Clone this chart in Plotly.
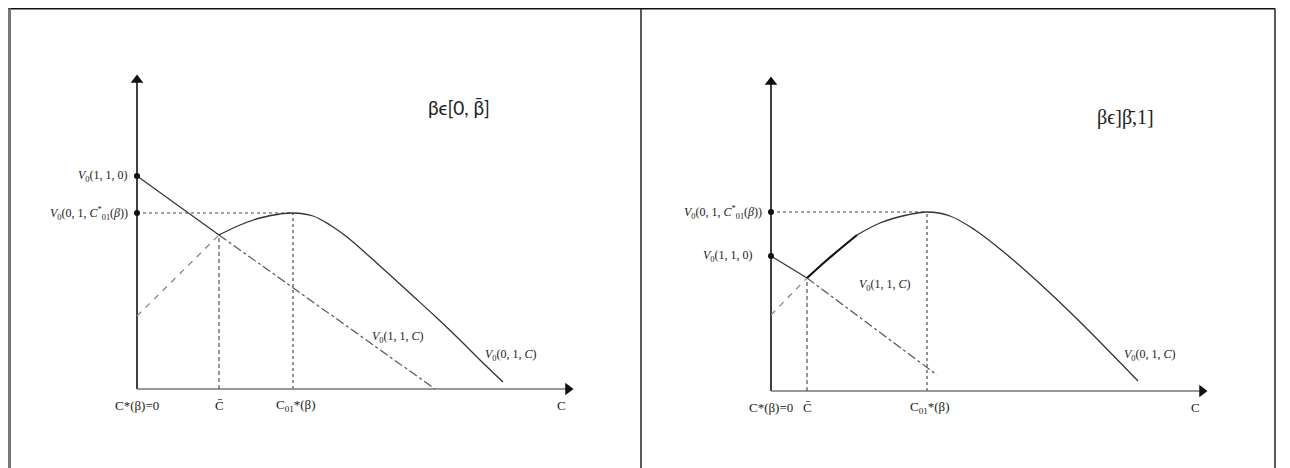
import plotly.graph_objects as go

# ---- left panel: beta in [0, beta_bar] ----
L_v110 = 2.13          # V0(1,1,0)
L_vstar = 1.76         # V0(0,1,C01*(beta))
L_cbar = 0.82
L_c01 = 1.56
L_kink_v = 1.54
L_v11_end = [2.98, 0.0]
L_v01_start = 0.73
L_curve_c = [0.82, 1.03, 1.23, 1.43, 1.56, 1.76, 1.93, 2.10, 2.43, 2.76, 3.00, 3.23, 3.43, 3.66]
L_curve_v = [1.54, 1.64, 1.71, 1.75, 1.76, 1.73, 1.64, 1.52, 1.23, 0.93, 0.71, 0.49, 0.29, 0.07]

# ---- right panel: beta in ]beta_bar, 1] ----
R_v110 = 1.35
R_vstar = 1.79
R_cbar = 0.36
R_c01 = 1.56
R_kink_v = 1.13
R_v11_end = [1.66, 0.16]
R_v01_start = 0.76
R_curve_c = [0.36, 0.56, 0.86, 1.09, 1.36, 1.56, 1.79, 2.04, 2.29, 2.56, 3.02, 3.67]
R_curve_v = [1.13, 1.31, 1.56, 1.68, 1.76, 1.79, 1.75, 1.61, 1.42, 1.19, 0.76, 0.10]
R_bold_n = 3  # first points of the curve drawn heavier

axis_top = 3.09
axis_right = 4.31

tick_labels = ["C*(β)=0", "C\u0304", "C<sub>01</sub>*(β)", "C"]
L_title = "βϵ[0, β\u0304]"
R_title = "βϵ]β\u0304,1]"

V110_txt = "<i>V</i><sub>0</sub>(1, 1, 0)"
VSTAR_txt = "<i>V</i><sub>0</sub>(0, 1, <i>C</i><sup>*</sup><sub>01</sub>(<i>β</i>))"
V11C_txt = "<i>V</i><sub>0</sub>(1, 1, <i>C</i>)"
V01C_txt = "<i>V</i><sub>0</sub>(0, 1, <i>C</i>)"

fig = go.Figure()
annotations = []
math_font = dict(family="Liberation Serif", size=12, color="#222")
tick_font = dict(family="Liberation Serif", size=13, color="#222")


def line(xs, ys, xa, ya, color="#222", width=1.3, dash="solid", shape="linear"):
    fig.add_trace(go.Scatter(x=xs, y=ys, mode="lines", xaxis=xa, yaxis=ya,
                             line=dict(color=color, width=width, dash=dash, shape=shape),
                             hoverinfo="skip", showlegend=False))


def panel(xa, ya, v110, vstar, cbar, c01, kink_v, v11_end, v01_start,
          curve_c, curve_v, bold_n, title, title_pos, title_font,
          v11c_pos, v01c_pos, v110_dx, c01_dx):
    xr = "x" if xa == "x" else "x2"
    yr = "y" if ya == "y" else "y2"
    # axes
    line([0, 0], [0, axis_top], xa, ya, color="#111", width=1.6)
    line([0, axis_right], [0, 0], xa, ya, color="#777", width=1.6)
    fig.add_trace(go.Scatter(x=[0, axis_right], y=[axis_top, 0], mode="markers",
                             xaxis=xa, yaxis=ya, hoverinfo="skip", showlegend=False,
                             marker=dict(symbol=["triangle-up", "triangle-right"],
                                         size=11, color="#111")))
    # guide lines
    line([0, c01], [vstar, vstar], xa, ya, color="#444", width=1, dash="dot")
    line([c01, c01], [0, vstar], xa, ya, color="#777", width=1.6, dash="dot")
    line([cbar, cbar], [0, kink_v], xa, ya, color="#333", width=1, dash="4px,3px")
    # V0(1,1,C)
    line([0, cbar], [v110, kink_v], xa, ya, color="#333", width=1.2)
    line([cbar, v11_end[0]], [kink_v, v11_end[1]], xa, ya, color="#555", width=1.2, dash="dashdot")
    # V0(0,1,C) below C bar
    line([0, cbar], [v01_start, kink_v], xa, ya, color="#888", width=1.3, dash="6px,6px")
    # V0(0,1,C) curve
    if bold_n:
        line(curve_c[:bold_n], curve_v[:bold_n], xa, ya, color="#111", width=2.2, shape="spline")
        line(curve_c[bold_n - 1:], curve_v[bold_n - 1:], xa, ya, color="#333", width=1.3, shape="spline")
    else:
        line(curve_c, curve_v, xa, ya, color="#333", width=1.3, shape="spline")
    # dots on the y axis
    fig.add_trace(go.Scatter(x=[0, 0], y=[v110, vstar], mode="markers", xaxis=xa, yaxis=ya,
                             marker=dict(size=6, color="#111"), hoverinfo="skip", showlegend=False))
    # labels
    annotations.append(dict(x=-0.07, y=vstar, xref=xr, yref=yr, text=VSTAR_txt,
                            xanchor="right", showarrow=False, font=math_font))
    annotations.append(dict(x=-0.07 - v110_dx, y=v110, xref=xr, yref=yr, text=V110_txt,
                            xanchor="right", showarrow=False, font=math_font))
    annotations.append(dict(x=v11c_pos[0], y=v11c_pos[1], xref=xr, yref=yr, text=V11C_txt,
                            xanchor="left", showarrow=False, font=math_font))
    annotations.append(dict(x=v01c_pos[0], y=v01c_pos[1], xref=xr, yref=yr, text=V01C_txt,
                            xanchor="left", showarrow=False, font=math_font))
    tick_x = [0, cbar, c01 + c01_dx, 4.24]
    for tx, tt in zip(tick_x, tick_labels):
        annotations.append(dict(x=tx, y=-0.16, xref=xr, yref=yr, text=tt,
                                showarrow=False, font=tick_font))
    annotations.append(dict(x=title_pos[0], y=title_pos[1], xref=xr, yref=yr, text=title,
                            showarrow=False, font=title_font))


panel("x", "y", L_v110, L_vstar, L_cbar, L_c01, L_kink_v, L_v11_end, L_v01_start,
      L_curve_c, L_curve_v, 0, L_title, (3.22, 2.82),
      dict(family="Lato", size=19, color="#222"), (2.33, 0.52), (3.46, 0.34), 0.0, 0.03)
panel("x2", "y2", R_v110, R_vstar, R_cbar, R_c01, R_kink_v, R_v11_end, R_v01_start,
      R_curve_c, R_curve_v, R_bold_n, R_title, (3.54, 2.74),
      dict(family="Liberation Serif", size=20, color="#222"), (0.86, 1.06), (3.51, 0.36), 0.09, 0.03)

# the page body adds an 8px margin, so the figure is laid out 8px up/left
W, H = 1290, 468
OFF = 8
split = (641 - OFF) / W
hidden = dict(visible=False, showgrid=False, zeroline=False, fixedrange=True)


def px(xv):
    return (xv - OFF) / W


def py(yv):
    return 1 - (yv - OFF) / H


# frame lines around the two panels
shapes = [
    dict(type="line", xref="paper", yref="paper", x0=px(8), x1=px(1275), y0=py(8.5), y1=py(8.5),
         line=dict(color="#111", width=2)),
    dict(type="line", xref="paper", yref="paper", x0=px(9.5), x1=px(9.5), y0=0, y1=py(8.5),
         line=dict(color="#777", width=3)),
    dict(type="line", xref="paper", yref="paper", x0=split, x1=split, y0=0, y1=py(8.5),
         line=dict(color="#222", width=1.5)),
    dict(type="line", xref="paper", yref="paper", x0=px(1275), x1=px(1275), y0=0, y1=py(8.5),
         line=dict(color="#222", width=1.5)),
]

fig.update_layout(
    width=W, height=H,
    margin=dict(l=0, r=0, t=0, b=0),
    paper_bgcolor="white", plot_bgcolor="white",
    xaxis=dict(domain=[0, split], range=[-1.29, 5.04], **hidden),
    yaxis=dict(domain=[0, 1], range=[-0.87, 3.81], anchor="x", **hidden),
    xaxis2=dict(domain=[split, 1], range=[-1.30, 5.27], anchor="y2", **hidden),
    yaxis2=dict(domain=[0, 1], range=[-0.85, 3.83], anchor="x2", **hidden),
    annotations=annotations,
    shapes=shapes,
)

fig.write_html("out.html")
